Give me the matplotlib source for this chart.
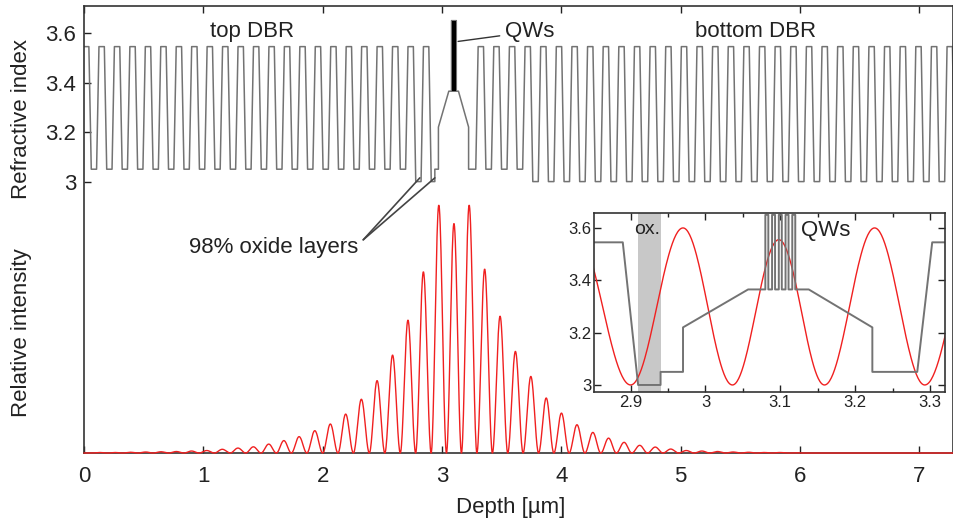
import matplotlib.pyplot as plt
import matplotlib.ticker as mticker
import numpy as np

plt.rcParams['font.family'] = ['Liberation Sans', 'DejaVu Sans']
plt.rcParams['font.size'] = 16
plt.rcParams['text.color'] = '#222222'
plt.rcParams['xtick.color'] = '#222222'
plt.rcParams['ytick.color'] = '#222222'

# ---- refractive index profile ----
n_high = 3.545        # high-index DBR layers
n_low_top = 3.05      # low-index layers, top DBR
n_low_bot = 3.0       # low-index layers, bottom DBR
n_oxide = 3.0         # 98% oxide layers

top_periods = 23
top_period = 0.1295   # um
top_last_high = 2.867 # centre of last high layer of the top DBR

bot_periods = 31
bot_period = 0.131
bot_first_high = 3.3255
bot_n_305 = 3         # first bottom-DBR lows still at 3.05

high_flat = 0.045     # flat part of a high layer
grade = 0.02          # graded interface width

# cavity between the two mirrors
cav_x = [2.910, 2.940, 2.940, 2.970, 2.970, 3.057]
cav_n = [3.0, 3.0, 3.05, 3.05, 3.22, 3.365]
cav2_x = [3.138, 3.223, 3.223, 3.283]
cav2_n = [3.365, 3.22, 3.05, 3.05]

qw_start = [3.080, 3.089, 3.098, 3.107, 3.116]
qw_width = 0.004
n_qw = 3.65
n_barrier = 3.365

# ---- standing-wave intensity: lobe maxima ----
peak_x = [0.131, 0.259, 0.388, 0.516, 0.645, 0.773, 0.902, 1.027, 1.158, 1.292,
          1.418, 1.549, 1.675, 1.800, 1.935, 2.066, 2.190, 2.325, 2.457, 2.585,
          2.716, 2.842, 2.976, 3.099, 3.227, 3.358, 3.487, 3.615, 3.744, 3.875,
          4.000, 4.130, 4.265, 4.397, 4.525, 4.657, 4.788, 4.916, 5.048, 5.178,
          5.309, 5.440, 5.570, 5.700, 5.830, 5.960]
peak_h = [0.002, 0.002, 0.003, 0.004, 0.005, 0.006, 0.008, 0.010, 0.015, 0.020,
          0.025, 0.036, 0.050, 0.066, 0.090, 0.117, 0.157, 0.217, 0.292, 0.395,
          0.536, 0.731, 1.000, 0.926, 1.000, 0.742, 0.552, 0.410, 0.309, 0.222,
          0.161, 0.114, 0.083, 0.060, 0.043, 0.031, 0.024, 0.016, 0.010, 0.008,
          0.006, 0.004, 0.003, 0.002, 0.002, 0.001]

# inset intensity extrema (drawn on the index scale)
ins_x = [2.825, 2.900, 2.970, 3.036, 3.098, 3.159, 3.226, 3.293, 3.365]
ins_v = [3.60, 3.00, 3.60, 3.00, 3.555, 3.00, 3.60, 3.00, 3.60]
ox_band = (2.910, 2.940)

# ---- build the index profile ----
xs, ns = [], []
for k in range(top_periods):
    c = top_last_high - (top_periods - 1 - k) * top_period
    xs += [c - high_flat / 2, c + high_flat / 2]
    ns += [n_high, n_high]
    if k < top_periods - 1:
        nl = n_oxide if k == top_periods - 2 else n_low_top
        xs += [c + high_flat / 2 + grade, c + top_period - high_flat / 2 - grade]
        ns += [nl, nl]
xs += cav_x
ns += cav_n
for s in qw_start:
    xs += [s, s, s + qw_width, s + qw_width]
    ns += [n_barrier, n_qw, n_qw, n_barrier]
xs += cav2_x
ns += cav2_n
for k in range(bot_periods):
    c = bot_first_high + k * bot_period
    nl = n_low_top if k < bot_n_305 else n_low_bot
    xs += [c - high_flat / 2, c + high_flat / 2,
           c + high_flat / 2 + grade, c + bot_period - high_flat / 2 - grade]
    ns += [n_high, n_high, nl, nl]

# ---- intensity curve ----
px = np.array(peak_x)
mid = (px[1:] + px[:-1]) / 2
edges = np.concatenate([[2 * px[0] - mid[0]], mid, [2 * px[-1] - mid[-1]]])
xi, yi = [0.0], [0.0]
t = np.linspace(0, 1, 40)
for a, b, hh in zip(edges[:-1], edges[1:], peak_h):
    xi.extend(a + (b - a) * t)
    yi.extend(hh * np.sin(np.pi * t) ** 2)
xi.append(7.4)
yi.append(0.0)

xr, yr = [], []
t2 = np.linspace(0, 1, 60)
for i in range(len(ins_x) - 1):
    xr.extend(ins_x[i] + (ins_x[i + 1] - ins_x[i]) * t2)
    yr.extend(ins_v[i] + (ins_v[i + 1] - ins_v[i]) * (1 - np.cos(np.pi * t2)) / 2)

# ---- figure ----
fig = plt.figure(figsize=(9.54, 5.27), dpi=100)
ax = fig.add_axes([0.0881, 0.1404, 0.9105, 0.8482])
line_col = '0.45'
red = '#f02020'

ax.plot(xs, ns, color=line_col, lw=1.1)
ax.fill_between([qw_start[0], qw_start[-1] + qw_width], n_barrier, n_qw,
                color='k', lw=0, zorder=3)
ax.set_xlim(0, 7.28)
ax.set_ylim(1.904, 3.709)
ax.set_xticks(range(8))
ax.set_yticks([3.0, 3.2, 3.4, 3.6])
ax.set_yticklabels(['3', '3.2', '3.4', '3.6'])
ax.tick_params(direction='in', top=True, right=True, length=5, width=1,
               labelsize=16)
ax.tick_params(axis='y', pad=5.5)
ax.tick_params(axis='x', pad=9)
for sp in ax.spines.values():
    sp.set_color('#333333')
    sp.set_linewidth(1.2)

ax.text(1.41, 3.606, 'top DBR', ha='center', va='center')
ax.text(5.625, 3.606, 'bottom DBR', ha='center', va='center')
ax.annotate('QWs', xy=(3.135, 3.566), xytext=(3.53, 3.605), va='center',
            arrowprops=dict(arrowstyle='-', color='#333333', lw=1,
                            shrinkA=2, shrinkB=0))
ax.text(2.30, 2.732, '98% oxide layers', ha='right', va='center')
for tx, ty in [(2.814, 3.015), (2.940, 3.015)]:
    ax.annotate('', xy=(tx, ty), xytext=(2.34, 2.765),
                arrowprops=dict(arrowstyle='-', color='#444444', lw=1.2,
                                shrinkA=0, shrinkB=0))

ax2 = ax.twinx()
ax2.plot(xi, yi, color=red, lw=1.0, clip_on=False)
ax2.set_ylim(0, 1.8025)
ax2.set_yticks([])
ax2.set_xlim(0, 7.28)
for sp in ax2.spines.values():
    sp.set_visible(False)

fig.text(22 / 954, 1 - 119 / 527, 'Refractive index', rotation=90,
         ha='center', va='center')
fig.text(22 / 954, 1 - 333 / 527, 'Relative intensity', rotation=90,
         ha='center', va='center')
fig.text(511 / 954, 1 - 508 / 527, 'Depth [µm]', ha='center', va='center')

# ---- inset ----
ins = fig.add_axes([0.6226, 0.2556, 0.3679, 0.3397])
ins.axvspan(*ox_band, color='#c8c8c8', lw=0)
ins.plot(xr, yr, color=red, lw=1.0)
ins.plot(xs, ns, color=line_col, lw=1.4)
ins.set_xlim(2.851, 3.32)
ins.set_ylim(2.972, 3.656)
ins.set_xticks([2.9, 3.0, 3.1, 3.2, 3.3])
ins.set_xticklabels(['2.9', '3', '3.1', '3.2', '3.3'])
ins.xaxis.set_minor_locator(mticker.MultipleLocator(0.05))
ins.set_yticks([3.0, 3.2, 3.4, 3.6])
ins.set_yticklabels(['3', '3.2', '3.4', '3.6'])
ins.tick_params(which='both', direction='in', top=True, right=True, width=1,
                labelsize=12)
ins.tick_params(which='major', length=5)
ins.tick_params(which='minor', length=3)
ins.tick_params(axis='y', pad=2)
ins.tick_params(axis='x', pad=2)
for sp in ins.spines.values():
    sp.set_color('#333333')
    sp.set_linewidth(1.2)
ins.text(2.905, 3.593, 'ox.', fontsize=14, va='center')
ins.text(3.127, 3.59, 'QWs', fontsize=16, va='center')

fig.savefig('out.png', dpi=100)
